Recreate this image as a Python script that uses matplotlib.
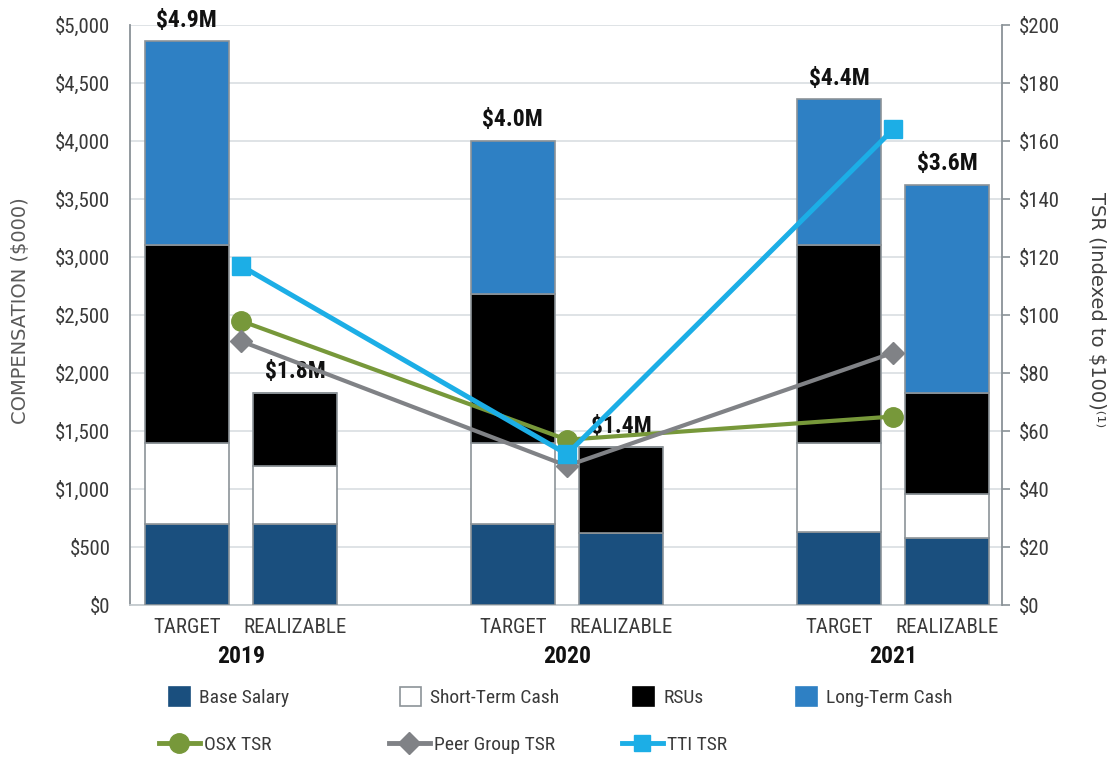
import matplotlib

matplotlib.use("Agg")
import matplotlib.pyplot as plt
import matplotlib.patches as mpatches
from matplotlib import font_manager
from matplotlib.lines import Line2D
from matplotlib.ticker import FuncFormatter, MultipleLocator
import numpy as np

# Compensation components ($000) per bar: 2019 T/R, 2020 T/R, 2021 T/R
years = ["2019", "2020", "2021"]
bar_types = ["TARGET", "REALIZABLE"]
base_salary = [700, 700, 700, 620, 630, 580]
short_term_cash = [700, 500, 700, 0, 770, 380]
rsus = [1700, 630, 1280, 740, 1700, 870]
long_term_cash = [1760, 0, 1320, 0, 1260, 1790]

# TSR indexed to $100, one point per year
osx_tsr = [98, 57, 65]
peer_tsr = [91, 48, 87]
tti_tsr = [117, 52, 164]

# prefer a condensed sans if one is around
installed = {f.name for f in font_manager.fontManager.ttflist}
narrow = None
for cand in ["Liberation Sans Narrow", "Roboto Condensed", "Noto Sans Condensed",
             "Open Sans Condensed", "DejaVu Sans Condensed"]:
    if cand in installed:
        narrow = cand
        break
if narrow is not None:
    plt.rcParams["font.family"] = [narrow, "DejaVu Sans"]
    tick_fs, legend_fs, bold_fs = 15, 14, 17
else:
    plt.rcParams["font.family"] = ["Liberation Sans", "DejaVu Sans"]
    tick_fs, legend_fs, bold_fs = 13, 12.5, 15

colors = {
    "Base Salary": "#1a4f7e",
    "Short-Term Cash": "#ffffff",
    "RSUs": "#000000",
    "Long-Term Cash": "#2e80c4",
}
edge = "#8c9398"
text_col = "#3a3a3a"

fig = plt.figure(figsize=(11.12, 7.6), dpi=100)
ax = fig.add_axes([0.1169, 0.2039, 0.7842, 0.7632])

group_x = np.arange(len(years))
offset = 0.166
width = 0.258
bar_x = []
for g in group_x:
    bar_x += [g - offset, g + offset]
bar_x = np.array(bar_x)

segments = [
    ("Base Salary", base_salary),
    ("Short-Term Cash", short_term_cash),
    ("RSUs", rsus),
    ("Long-Term Cash", long_term_cash),
]
bottom = np.zeros(len(bar_x))
for name, vals in segments:
    vals = np.array(vals, dtype=float)
    ax.bar(
        bar_x,
        vals,
        width,
        bottom=bottom,
        color=colors[name],
        edgecolor=edge,
        linewidth=1.2,
        zorder=3,
    )
    bottom += vals

# total labels above each bar
for x, total in zip(bar_x, bottom):
    ax.annotate(
        f"${total / 1000:.1f}M",
        (x, total),
        xytext=(0, 7),
        textcoords="offset points",
        ha="center",
        va="bottom",
        fontsize=bold_fs,
        fontweight="bold",
        color="#111111",
        zorder=4,
    )

ax.set_xlim(-0.340, 2.334)
ax.set_ylim(0, 5000)
ax.yaxis.set_major_locator(MultipleLocator(500))
ax.yaxis.set_major_formatter(FuncFormatter(lambda v, p: f"${v:,.0f}"))
ax.grid(axis="y", color="#d9dee2", linewidth=1.2, zorder=0)
ax.set_axisbelow(True)
ax.tick_params(axis="y", length=0, pad=14, labelsize=tick_fs, labelcolor=text_col)
ax.set_xticks(bar_x)
ax.set_xticklabels(bar_types * len(years))
ax.tick_params(axis="x", length=0, pad=9, labelsize=tick_fs, labelcolor=text_col)

for s in ["top", "right"]:
    ax.spines[s].set_visible(False)
ax.spines["left"].set_color("#8a9297")
ax.spines["left"].set_linewidth(1.3)
ax.spines["bottom"].set_color("#c4cace")
ax.spines["bottom"].set_linewidth(1.3)

# year labels under each pair of bars
for g, yr in zip(group_x, years):
    ax.annotate(
        yr,
        (g, 0),
        xycoords=("data", "axes fraction"),
        xytext=(0, -37),
        textcoords="offset points",
        ha="center",
        va="center",
        fontsize=bold_fs,
        fontweight="bold",
        color="#111111",
    )

# TSR lines on the secondary axis
ax2 = ax.twinx()
ax2.set_ylim(0, 200)
ax2.yaxis.set_major_locator(MultipleLocator(20))
ax2.yaxis.set_major_formatter(FuncFormatter(lambda v, p: f"${v:.0f}"))
ax2.plot(group_x, osx_tsr, color="#77983a", linewidth=3, marker="o", markersize=14, zorder=5)
ax2.plot(group_x, peer_tsr, color="#808286", linewidth=3, marker="D", markersize=11, zorder=5)
ax2.plot(group_x, tti_tsr, color="#1caee6", linewidth=3.6, marker="s", markersize=13, zorder=6)
ax2.tick_params(axis="y", direction="out", length=6, width=1.2, color="#8a9297",
                pad=6, labelsize=tick_fs, labelcolor=text_col)
for s in ["top", "left", "bottom"]:
    ax2.spines[s].set_visible(False)
ax2.spines["right"].set_color("#8a9297")
ax2.spines["right"].set_linewidth(1.3)

fig.text(0.018, 0.591, "COMPENSATION ($000)", rotation=90, ha="center", va="center",
         fontsize=14, color="#5a5a5a", family="DejaVu Sans")
fig.text(0.9865, 0.592, "TSR (Indexed to $100)⁽¹⁾", rotation=270, ha="center", va="center",
         fontsize=14, color="#404040", family="DejaVu Sans")

# legend entries, each placed on its own
patch_items = [
    ("Base Salary", 169),
    ("Short-Term Cash", 400),
    ("RSUs", 633),
    ("Long-Term Cash", 796),
]
for name, px in patch_items:
    h = mpatches.Patch(facecolor=colors[name], edgecolor=edge if name == "Short-Term Cash" else colors[name],
                       linewidth=1.2)
    fig.legend(handles=[h], labels=[name], loc="center left",
               bbox_to_anchor=(px / 1112, 1 - 697 / 760), frameon=False,
               borderpad=0, borderaxespad=0, handlelength=1.1, handleheight=1.1,
               handletextpad=0.45, fontsize=legend_fs, labelcolor=text_col)

line_items = [
    ("OSX TSR", "#77983a", "o", 14, 159),
    ("Peer Group TSR", "#808286", "D", 11, 389),
    ("TTI TSR", "#1caee6", "s", 12, 622),
]
for name, c, m, ms, px in line_items:
    h = Line2D([], [], color=c, linewidth=3.5, marker=m, markersize=ms)
    fig.legend(handles=[h], labels=[name], loc="center left",
               bbox_to_anchor=(px / 1112, 1 - 745 / 760), frameon=False,
               borderpad=0, borderaxespad=0, handlelength=2.1,
               handletextpad=0.2, fontsize=legend_fs, labelcolor=text_col)

fig.savefig("out.png", dpi=100)
